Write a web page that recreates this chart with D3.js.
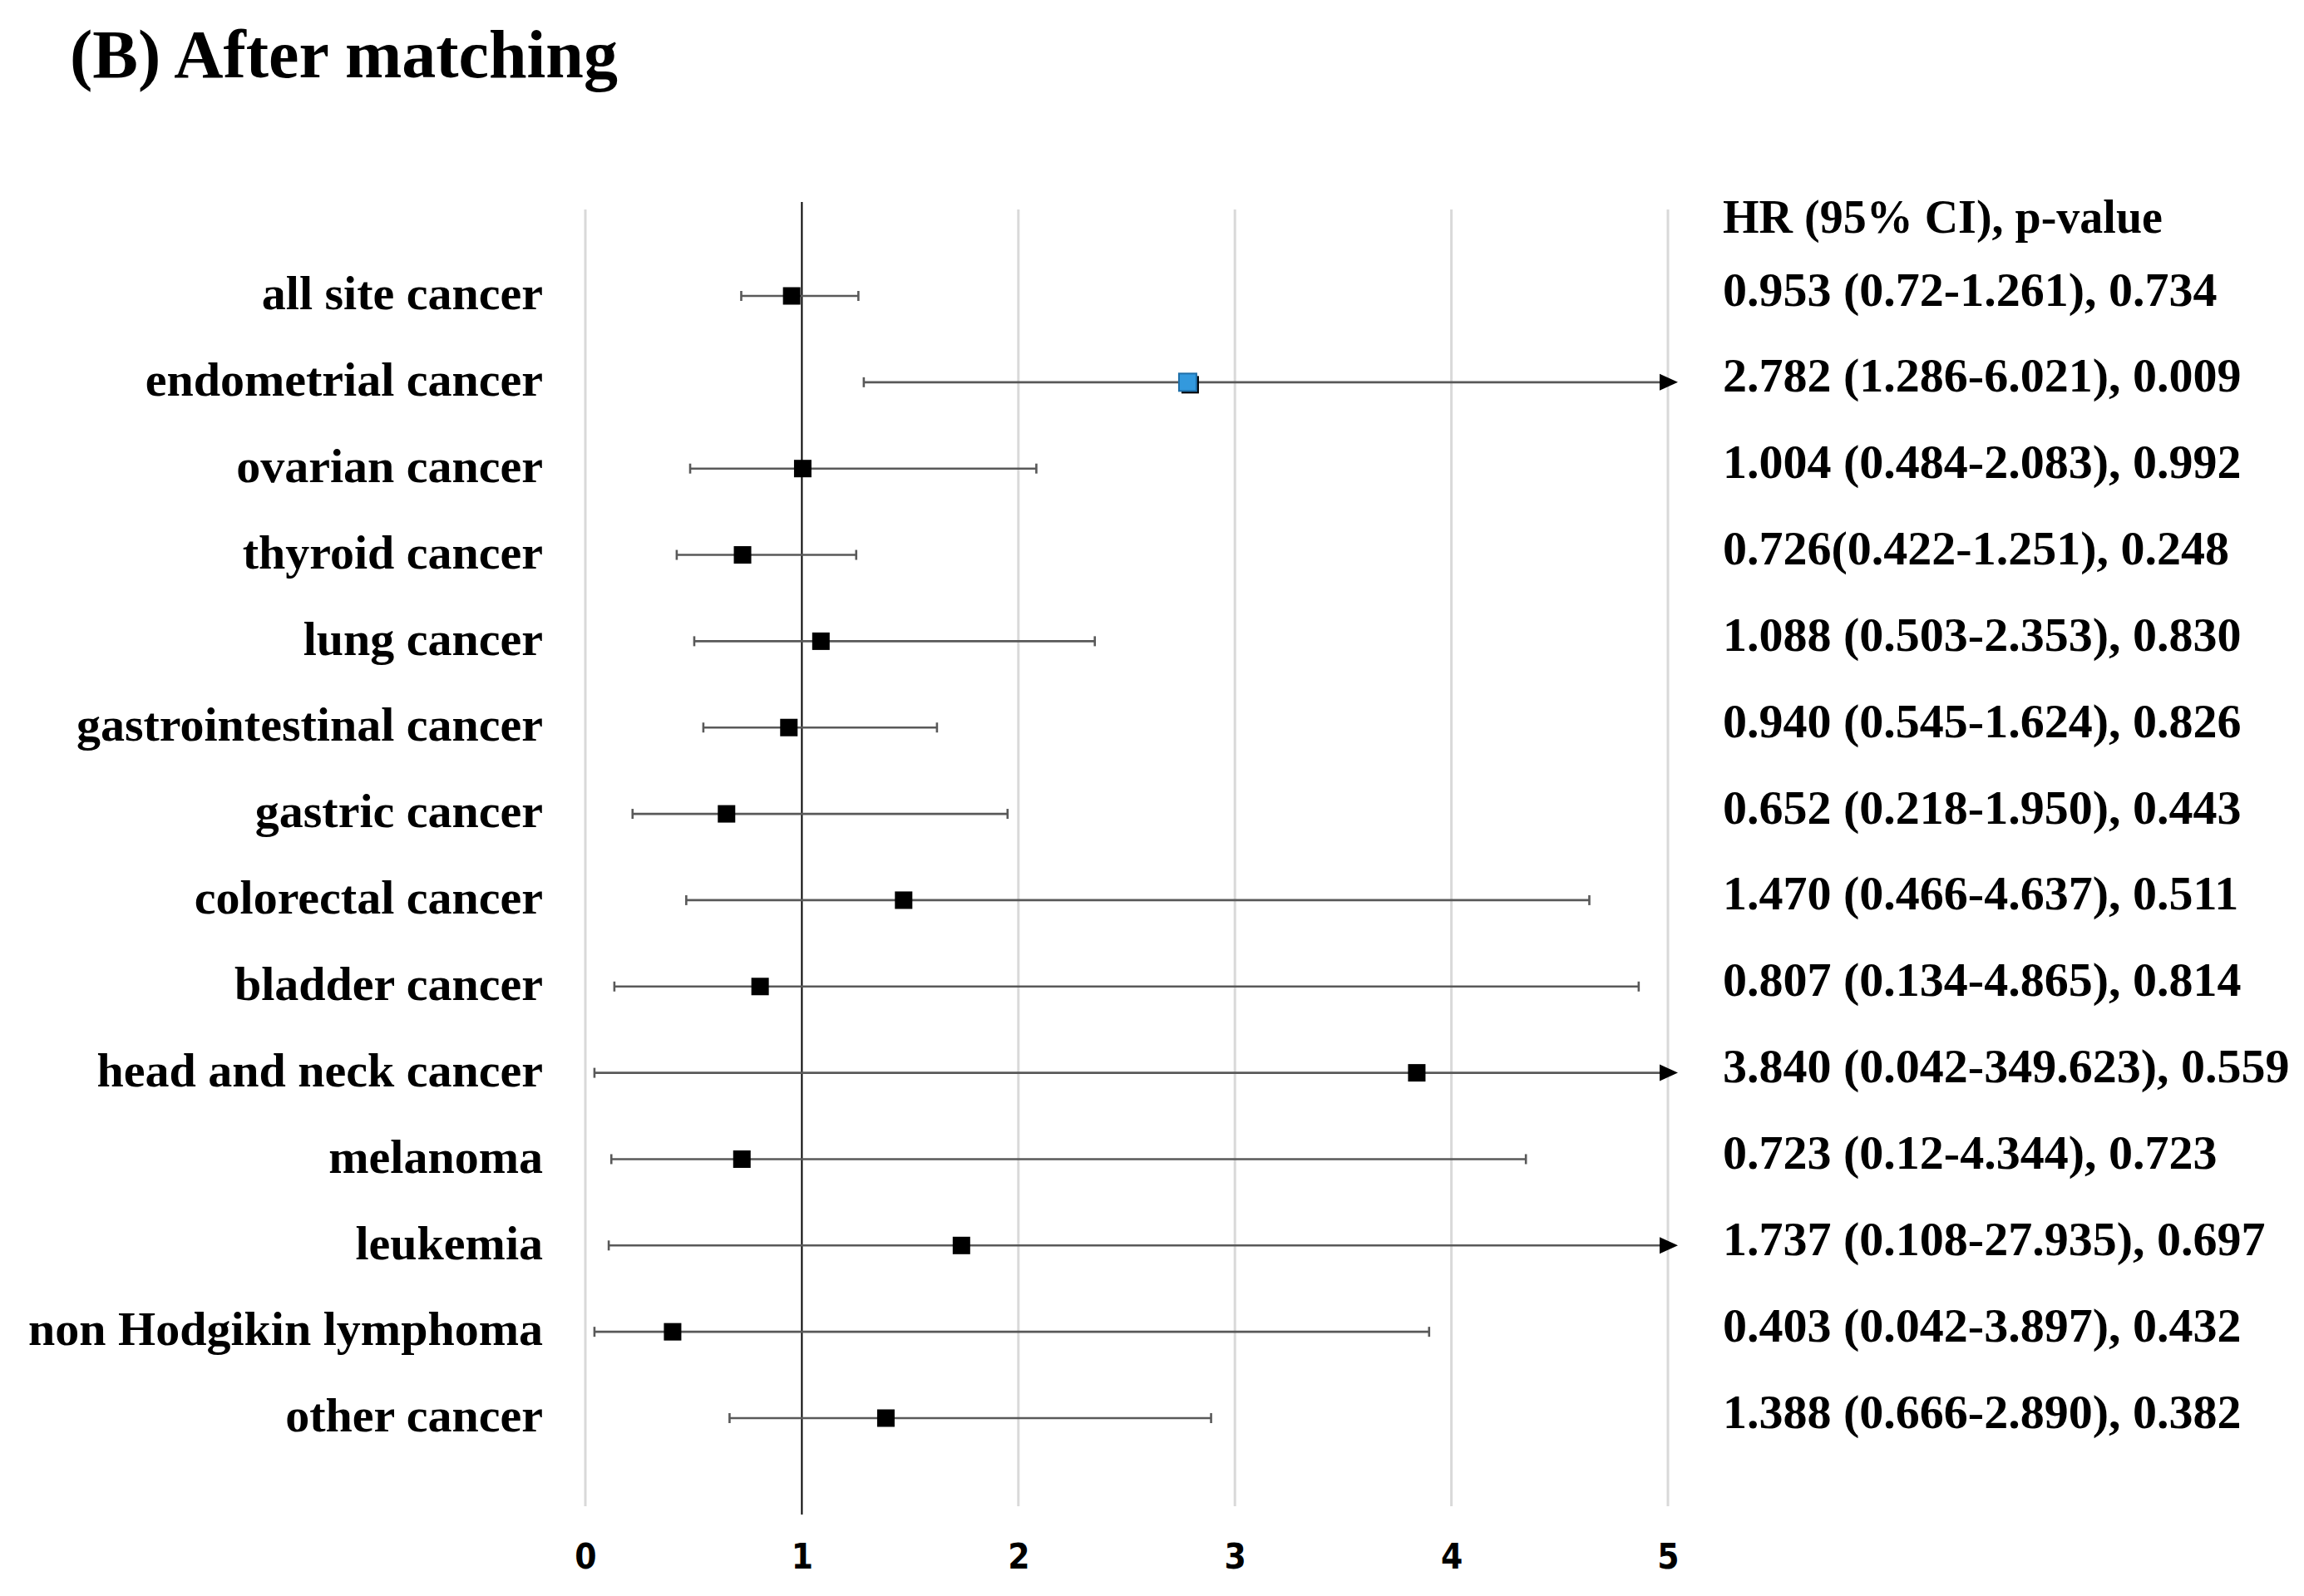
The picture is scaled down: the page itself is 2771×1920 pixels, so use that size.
<!DOCTYPE html>
<html>
<head>
<meta charset="utf-8">
<script src="https://cdn.jsdelivr.net/npm/d3@7"></script>
<style>
  body { margin: 0; background: #fff; }
  svg { display: block; }
</style>
</head>
<body>
<svg id="chart" width="2771" height="1920"></svg>
<script>
// data
const cancers = ["all site cancer", "endometrial cancer", "ovarian cancer", "thyroid cancer",
    "lung cancer", "gastrointestinal cancer", "gastric cancer", "colorectal cancer",
    "bladder cancer", "head and neck cancer", "melanoma", "leukemia",
    "non Hodgikin lymphoma", "other cancer"]
const hr = [0.953, 2.782, 1.004, 0.726, 1.088, 0.940, 0.652, 1.470, 0.807, 3.840, 0.723, 1.737, 0.403, 1.388]
const ciLow = [0.72, 1.286, 0.484, 0.422, 0.503, 0.545, 0.218, 0.466, 0.134, 0.042, 0.12, 0.108, 0.042, 0.666]
const ciHigh = [1.261, 6.021, 2.083, 1.251, 2.353, 1.624, 1.950, 4.637, 4.865, 349.623, 4.344, 27.935, 3.897, 2.890]
const resultText = ["0.953 (0.72-1.261), 0.734", "2.782 (1.286-6.021), 0.009", "1.004 (0.484-2.083), 0.992",
    "0.726(0.422-1.251), 0.248", "1.088 (0.503-2.353), 0.830", "0.940 (0.545-1.624), 0.826",
    "0.652 (0.218-1.950), 0.443", "1.470 (0.466-4.637), 0.511", "0.807 (0.134-4.865), 0.814",
    "3.840 (0.042-349.623), 0.559", "0.723 (0.12-4.344), 0.723", "1.737 (0.108-27.935), 0.697",
    "0.403 (0.042-3.897), 0.432", "1.388 (0.666-2.890), 0.382"]
const highlighted = ["endometrial cancer"]
const xTicks = [0, 1, 2, 3, 4, 5]

const svg = d3.select('#chart')
const serif = "'Liberation Serif', 'Times New Roman', serif"

const rows = cancers.map((c, i) => ({name: c, hr: hr[i], lo: ciLow[i], hi: ciHigh[i], txt: resultText[i]}))

const x = d3.scaleLinear().domain([0, 5]).range([704, 2006])
const y = d3.scalePoint().domain(cancers).range([356, 1706])

const gridTop = 252, gridBottom = 1812

// title
svg.append('text')
    .attr('x', 84).attr('y', 93)
    .attr('font-family', serif).attr('font-weight', 'bold')
    .attr('font-size', 82)
    .text('(B) After matching')

// grid lines
svg.append('g').selectAll('line')
    .data(xTicks.filter(d => d !== 1))
    .join('line')
    .attr('x1', d => x(d)).attr('x2', d => x(d))
    .attr('y1', gridTop).attr('y2', gridBottom)
    .attr('stroke', '#d9d9d9').attr('stroke-width', 3)

// reference line at HR = 1
svg.append('line')
    .attr('x1', x(1)).attr('x2', x(1))
    .attr('y1', gridTop - 9).attr('y2', gridBottom + 10)
    .attr('stroke', '#000').attr('stroke-width', 2)

// x axis labels
const axis = d3.axisBottom(x).tickValues(xTicks).tickSize(0).tickFormat(d3.format('d'))
const axisG = svg.append('g')
    .attr('transform', `translate(0, ${1854})`)
    .call(axis)
axisG.select('.domain').remove()
axisG.selectAll('text')
    .attr('font-family', "'DejaVu Sans Condensed', 'Liberation Sans', sans-serif")
    .attr('font-weight', 'bold')
    .attr('font-size', 42)
    .attr('fill', '#000')

// CI lines
const ciG = svg.append('g')
ciG.selectAll('line.ci')
    .data(rows)
    .join('line')
    .attr('class', 'ci')
    .attr('x1', d => x(d.lo))
    .attr('x2', d => d.hi > 5 ? x(5) - 2 : x(d.hi))
    .attr('y1', d => y(d.name)).attr('y2', d => y(d.name))
    .attr('stroke', '#595959').attr('stroke-width', 2.6)

// caps
const capH = 6
ciG.selectAll('line.capLo')
    .data(rows)
    .join('line')
    .attr('class', 'capLo')
    .attr('x1', d => x(d.lo)).attr('x2', d => x(d.lo))
    .attr('y1', d => y(d.name) - capH).attr('y2', d => y(d.name) + capH)
    .attr('stroke', '#595959').attr('stroke-width', 2.6)
ciG.selectAll('line.capHi')
    .data(rows.filter(d => d.hi <= 5))
    .join('line')
    .attr('class', 'capHi')
    .attr('x1', d => x(d.hi)).attr('x2', d => x(d.hi))
    .attr('y1', d => y(d.name) - capH).attr('y2', d => y(d.name) + capH)
    .attr('stroke', '#595959').attr('stroke-width', 2.6)

// arrows where the CI goes past the axis
ciG.selectAll('path.arrow')
    .data(rows.filter(d => d.hi > 5))
    .join('path')
    .attr('class', 'arrow')
    .attr('d', d => {
        let tip = x(5) + 12, cy = y(d.name)
        return `M${tip},${cy} L${tip - 22},${cy - 10} L${tip - 22},${cy + 10} Z`
    })
    .attr('fill', '#000')

// markers
const ms = 21
const mk = svg.append('g')
mk.selectAll('rect.shadow')
    .data(rows.filter(d => highlighted.includes(d.name)))
    .join('rect')
    .attr('class', 'shadow')
    .attr('x', d => x(d.hr) - ms / 2 + 3).attr('y', d => y(d.name) - ms / 2 + 3)
    .attr('width', ms).attr('height', ms)
    .attr('fill', '#000')
mk.selectAll('rect.marker')
    .data(rows)
    .join('rect')
    .attr('class', 'marker')
    .attr('x', d => x(d.hr) - ms / 2).attr('y', d => y(d.name) - ms / 2)
    .attr('width', ms).attr('height', ms)
    .attr('fill', d => highlighted.includes(d.name) ? '#3399dd' : '#000')
    .attr('stroke', d => highlighted.includes(d.name) ? '#1f6fa8' : 'none')
    .attr('stroke-width', 2)

// row labels
svg.append('g').selectAll('text')
    .data(rows)
    .join('text')
    .attr('x', 653)
    .attr('y', d => y(d.name))
    .attr('dy', '0.28em')
    .attr('text-anchor', 'end')
    .attr('font-family', serif).attr('font-weight', 'bold')
    .attr('font-size', 58)
    .text(d => d.name)

// result column
svg.append('text')
    .attr('x', 2072).attr('y', 262)
    .attr('dy', '0.32em')
    .attr('font-family', serif).attr('font-weight', 'bold')
    .attr('font-size', 56)
    .text('HR (95% CI), p-value')

svg.append('g').selectAll('text')
    .data(rows)
    .join('text')
    .attr('x', 2072)
    .attr('y', d => y(d.name) - 7)
    .attr('dy', '0.32em')
    .attr('font-family', serif).attr('font-weight', 'bold')
    .attr('font-size', 58)
    .text(d => d.txt)
</script>
</body>
</html>
